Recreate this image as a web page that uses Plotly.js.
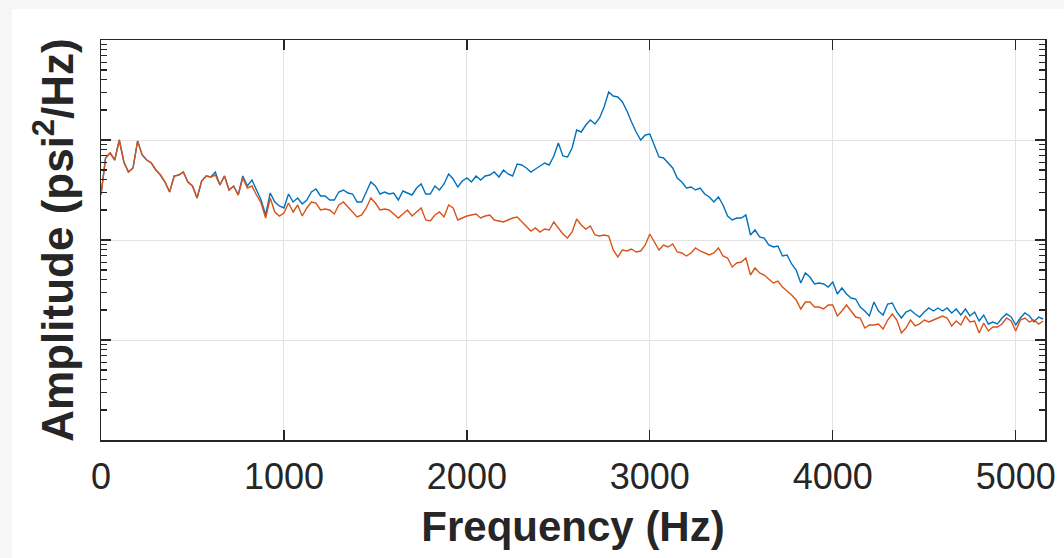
<!DOCTYPE html>
<html>
<head>
<meta charset="utf-8">
<script src="https://cdn.plot.ly/plotly-3.0.1.min.js"></script>
<style>
  html, body { margin: 0; padding: 0; background: #f6f6f6; width: 1064px; height: 558px; overflow: hidden; }
  #chart { position: absolute; left: 12px; top: 9px; width: 1052px; height: 549px; background: #ffffff; }
</style>
</head>
<body>
<div id="chart"></div>
<script>
// Frequency bin spacing (Hz)
const binHz = 25;

// Series 1 (blue) PSD, dB re psi^2/Hz, one value per 25 Hz bin from 0 Hz
const blueDb = [
-35.5,-31.8,-31.3,-32.0,-30.0,-32.2,-33.2,-32.8,-30.1,-31.5,
-32.0,-32.3,-33.0,-33.5,-34.2,-35.2,-33.6,-33.5,-33.2,-34.2,
-34.6,-35.8,-34.1,-33.6,-33.7,-33.2,-34.5,-33.6,-35.0,-34.6,
-35.5,-33.6,-34.6,-34.0,-35.0,-36.0,-37.5,-35.3,-36.2,-36.6,
-36.8,-35.4,-36.2,-35.8,-36.4,-36.0,-35.2,-34.9,-35.6,-35.6,
-36.0,-36.0,-35.2,-35.0,-35.3,-35.4,-36.2,-36.2,-35.2,-34.2,
-34.6,-35.4,-35.2,-35.4,-35.3,-36.0,-35.1,-35.3,-35.5,-34.8,
-34.4,-35.4,-35.4,-34.6,-35.0,-34.4,-33.4,-33.9,-34.7,-34.1,
-33.8,-34.2,-33.6,-34.0,-33.6,-33.5,-33.2,-33.7,-33.0,-33.4,
-33.6,-32.4,-32.5,-32.8,-33.2,-32.9,-32.6,-32.3,-32.5,-31.6,
-30.3,-31.6,-31.7,-30.8,-29.0,-29.2,-28.5,-28.0,-28.4,-27.8,
-26.7,-25.2,-25.6,-25.7,-26.2,-27.1,-28.2,-29.2,-30.0,-29.5,
-29.4,-30.6,-31.7,-31.8,-32.3,-32.8,-33.8,-34.2,-34.8,-34.7,
-35.0,-34.8,-35.4,-35.7,-36.2,-35.7,-36.5,-37.6,-38.0,-37.8,
-37.8,-37.5,-39.5,-39.0,-39.7,-39.8,-40.5,-40.7,-40.6,-41.6,
-41.5,-42.4,-43.0,-44.3,-43.3,-43.7,-44.4,-44.3,-44.4,-44.7,
-44.2,-45.4,-44.8,-45.4,-45.8,-45.9,-46.7,-47.1,-47.6,-46.2,
-47.1,-47.5,-46.4,-46.3,-47.2,-47.8,-47.2,-47.0,-47.4,-47.7,
-47.2,-46.8,-47.1,-46.8,-47.1,-46.8,-47.3,-46.9,-47.5,-46.9,
-47.6,-47.2,-48.1,-47.5,-48.4,-48.2,-48.4,-47.8,-47.4,-47.7,
-48.5,-47.8,-47.3,-47.6,-48.2,-47.7,-47.9
];

// Series 2 (orange) PSD, dB re psi^2/Hz
const orangeDb = [
-35.5,-31.8,-31.3,-32.0,-30.0,-32.2,-33.2,-32.8,-30.1,-31.5,
-32.0,-32.3,-33.0,-33.5,-34.2,-35.2,-33.6,-33.5,-33.2,-34.2,
-34.6,-35.8,-34.1,-33.6,-33.7,-33.5,-34.5,-33.6,-35.0,-34.6,
-35.5,-33.8,-34.8,-34.6,-35.5,-36.3,-37.8,-35.8,-37.2,-37.6,
-37.3,-36.3,-37.2,-36.5,-37.6,-36.8,-36.2,-36.3,-37.0,-36.9,
-37.0,-37.4,-36.5,-36.2,-36.7,-37.2,-37.7,-37.5,-36.8,-35.8,
-36.3,-37.0,-36.9,-37.0,-37.4,-37.8,-37.4,-37.0,-37.6,-37.2,
-36.8,-38.0,-38.1,-37.5,-37.2,-37.7,-36.5,-36.8,-38.0,-37.8,
-37.6,-37.5,-37.4,-37.8,-37.6,-37.5,-38.0,-38.1,-38.2,-38.0,
-37.8,-37.7,-38.2,-38.6,-39.1,-38.8,-39.2,-38.9,-39.0,-38.2,
-38.8,-39.4,-39.8,-39.2,-37.9,-38.5,-38.9,-38.6,-39.5,-39.6,
-39.5,-39.6,-41.0,-41.7,-41.0,-41.1,-40.9,-41.2,-41.1,-40.5,
-39.4,-40.2,-41.0,-40.5,-40.7,-40.4,-41.2,-41.3,-41.6,-41.3,
-40.8,-41.1,-41.3,-41.5,-41.3,-40.8,-41.6,-41.8,-42.7,-42.3,
-42.2,-41.8,-43.5,-42.8,-43.3,-43.5,-43.9,-44.3,-44.1,-44.7,
-45.1,-45.5,-46.0,-46.9,-46.2,-46.2,-46.7,-46.7,-46.9,-46.5,
-46.5,-47.6,-47.1,-46.5,-47.1,-47.7,-47.8,-48.8,-48.5,-48.5,
-48.4,-48.9,-48.0,-47.4,-48.0,-49.3,-48.8,-48.0,-48.6,-48.4,
-48.0,-48.2,-48.0,-47.8,-47.6,-47.8,-48.6,-48.1,-48.5,-47.6,
-48.2,-48.1,-49.3,-48.3,-49.1,-48.7,-48.7,-48.4,-47.8,-48.1,
-49.1,-48.0,-47.8,-48.2,-48.0,-48.4,-48.1
];

// X tick labels
const xTickVals = [0, 1000, 2000, 3000, 4000, 5000];
const xTickText = ['0', '1000', '2000', '3000', '4000', '5000'];

const freqHz = blueDb.map((_, i) => i * binHz);
const dbToLinear = v => Math.pow(10, v / 10);

const traces = [
  { x: freqHz, y: blueDb.map(dbToLinear), type: 'scatter', mode: 'lines',
    line: { color: '#0072BD', width: 1.4 }, name: 'Series 1', hoverinfo: 'skip' },
  { x: freqHz, y: orangeDb.map(dbToLinear), type: 'scatter', mode: 'lines',
    line: { color: '#D95319', width: 1.4 }, name: 'Series 2', hoverinfo: 'skip' }
];

const axisColor = '#262626';
const layout = {
  width: 1052, height: 549,
  margin: { l: 89, r: 19, t: 31, b: 118 },
  paper_bgcolor: '#ffffff', plot_bgcolor: '#ffffff',
  showlegend: false,
  font: { family: 'Liberation Sans, Arial, Helvetica, sans-serif', color: axisColor },
  xaxis: {
    range: [0, 5160],
    tickvals: xTickVals, ticktext: xTickText,
    ticks: 'inside', ticklen: 10, tickwidth: 1.3, tickcolor: axisColor,
    ticklabelstandoff: 4,
    showline: true, linecolor: axisColor, linewidth: 1.5, mirror: 'ticks',
    showgrid: true, gridcolor: '#e2e2e2', gridwidth: 1, zeroline: false,
    tickfont: { size: 36, color: axisColor },
    title: { text: 'Frequency (Hz)', font: { size: 42, weight: 'bold', color: axisColor }, standoff: 16 }
  },
  yaxis: {
    type: 'log', range: [-6, -2], dtick: 1,
    ticks: 'inside', ticklen: 10, tickwidth: 1.3, tickcolor: axisColor,
    showticklabels: false,
    minor: { dtick: 'D1', ticks: 'inside', ticklen: 6, tickwidth: 1.3, tickcolor: axisColor, showgrid: false },
    showline: true, linecolor: axisColor, linewidth: 1.5, mirror: 'ticks',
    showgrid: true, gridcolor: '#e2e2e2', gridwidth: 1, zeroline: false,
    title: { text: 'Amplitude (psi<sup>2</sup>/Hz)', font: { size: 44, weight: 'bold', color: axisColor }, standoff: 12 }
  }
};

Plotly.newPlot('chart', traces, layout, { staticPlot: true, displayModeBar: false });
</script>
</body>
</html>
